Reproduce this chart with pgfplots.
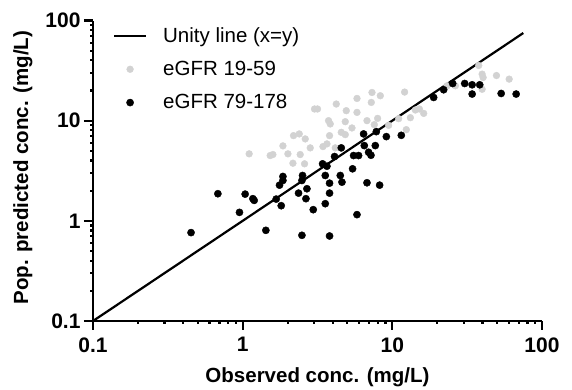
\documentclass[border=0pt]{standalone}
\usepackage{fontspec}
\setmainfont{Liberation Sans}
\usepackage{pgfplots}
\pgfplotsset{compat=1.18}
\definecolor{ltgray}{RGB}{210,210,210}
\begin{document}
\begin{tikzpicture}
\begin{axis}[
  name=ax, at={(0,0)}, anchor=south west,
  scale only axis, width=449pt, height=300.5pt,
  xmode=log, ymode=log,
  xmin=0.1, xmax=100, ymin=0.1, ymax=100,
  axis x line*=bottom, axis y line*=left,
  axis line style={line width=2.2pt},
  xtick={0.1,1,10,100}, xticklabels={0.1,1,10,100},
  ytick={0.1,1,10,100}, yticklabels={0.1,1,10,100},
  minor xtick={}, minor ytick={},
  tick align=outside, major tick length=9pt,
  tick style={line width=2.2pt, black},
  ticklabel style={font=\fontsize{21}{24}\selectfont\bfseries},
  xticklabel style={yshift=-4pt},
  xlabel={Observed conc. (mg/L)}, ylabel={Pop. predicted conc. (mg/L)},
  label style={font=\fontsize{20.5}{24}\selectfont\bfseries},
  xlabel style={at={(axis description cs:0.5,-0.187)}, anchor=center},
  ylabel style={at={(axis description cs:-0.156,0.51)}, anchor=center},
  legend style={draw=none, fill=none, inner sep=0pt, outer sep=0pt,
    at={(axis description cs:0,1)}, anchor=north west, xshift=20pt, yshift=-5pt,
    font=\fontsize{20.5}{24}\selectfont, row sep=13.5pt, column sep=14pt},
  legend cell align=left,
]
\addlegendimage{legend image code/.code={\draw[black, line width=2.2pt] (0pt,0pt) -- (32pt,0pt);}}
\addlegendentry{Unity line (x=y)}
\addlegendimage{legend image code/.code={\path[draw=none, fill=none] (0pt,0pt) -- (32pt,0pt); \fill[ltgray] (16pt,0pt) circle[radius=3.4pt];}}
\addlegendentry{eGFR 19-59}
\addlegendimage{legend image code/.code={\path[draw=none, fill=none] (0pt,0pt) -- (32pt,0pt); \fill[black] (16pt,0pt) circle[radius=3.6pt];}}
\addlegendentry{eGFR 79-178}
\addplot[black, line width=2.2pt, forget plot] coordinates {(0.1,0.1) (75,75)};
\addplot[only marks, mark=*, mark size=3.4pt, color=ltgray, mark options={draw=ltgray, fill=ltgray}, forget plot] coordinates {
(1.105,4.664) (1.527,4.485) (1.592,4.589) (1.858,5.602) (2.006,4.664)
(2.187,7.090) (2.388,7.373) (2.619,6.575) (2.424,4.589) (2.167,3.760)
(2.591,3.709) (2.828,5.351) (3.021,13.08) (3.164,13.08) (3.440,5.512)
(3.658,5.864) (3.807,7.090) (3.748,10.0) (3.848,9.273) (4.221,14.66)
(4.157,5.351) (4.559,7.650) (4.848,7.256) (4.923,12.58) (4.848,9.772)
(5.375,8.459) (5.806,16.67) (5.806,12.10) (6.772,10.0) (7.236,15.21)
(7.314,19.12) (8.313,17.74) (7.976,10.54) (7.578,9.126) (9.447,8.981)
(11.02,10.47) (12.40,8.135) (12.08,19.30) (13.20,10.71) (14.25,12.78)
(15.16,13.08) (16.20,11.82) (23.23,22.30) (26.39,22.30) (37.78,35.58)
(39.81,29.15) (40.43,26.97) (49.63,28.23) (39.81,20.58) (60.34,25.99)
};
\addplot[only marks, mark=*, mark size=3.6pt, color=black, forget plot] coordinates {
(0.452,0.763) (0.683,1.865) (0.952,1.215) (1.039,1.848) (1.170,1.664)
(1.194,1.600) (1.429,0.804) (1.675,1.648) (1.810,1.416) (1.763,2.271)
(1.858,2.773) (1.858,2.529) (2.362,1.891) (2.489,0.717) (2.512,2.836)
(2.489,2.529) (2.688,2.091) (2.647,1.664) (2.962,1.292) (3.419,3.709)
(3.658,3.510) (3.564,2.836) (3.564,1.483) (3.807,2.377) (3.807,1.891)
(3.807,0.706) (4.111,4.384) (4.490,2.836) (4.608,2.433) (5.425,3.306)
(5.509,4.485) (5.951,4.485) (6.941,4.837) (7.202,4.516) (6.772,2.399)
(8.225,2.271) (5.806,1.153) (4.559,5.351) (6.427,7.373) (6.497,5.639)
(7.695,5.639) (7.816,7.772) (9.120,6.931) (11.48,7.140) (18.89,17.05)
(22.03,20.35) (25.31,23.50) (30.45,23.50) (34.14,22.81) (38.37,22.81)
(34.14,18.44) (53.35,18.69) (67.21,18.44)
};
\end{axis}
\pgfresetboundingbox
\useasboundingbox ([shift={(-93pt,-69pt)}]ax.south west) rectangle ([shift={(30pt,20.5pt)}]ax.north east);
\end{tikzpicture}
\end{document}
